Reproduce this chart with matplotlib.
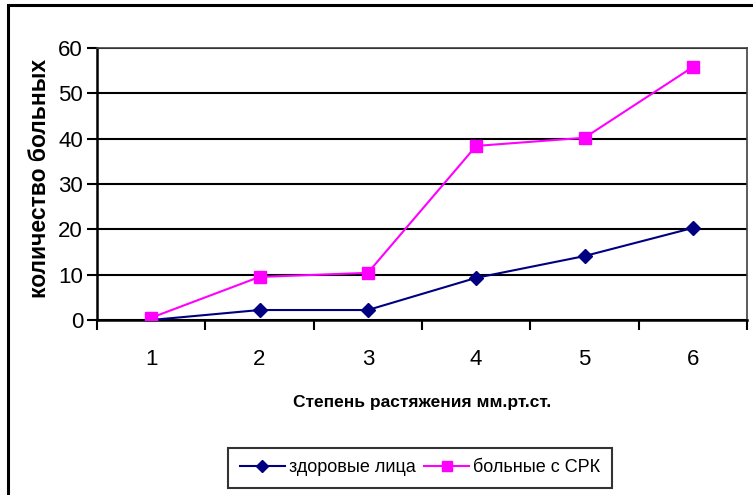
import matplotlib
matplotlib.use("Agg")
import matplotlib.pyplot as plt
from matplotlib.patches import Rectangle
from matplotlib.font_manager import fontManager

names = {f.name for f in fontManager.ttflist}
fam = "Liberation Sans Narrow" if "Liberation Sans Narrow" in names else "Liberation Sans"
plt.rcParams['font.family'] = [fam, 'DejaVu Sans']

categories = [1, 2, 3, 4, 5, 6]
healthy = [0, 2.2, 2.2, 9.3, 14.1, 20.3]
ibs = [0.5, 9.5, 10.4, 38.4, 40.2, 55.8]
yticks = [0, 10, 20, 30, 40, 50, 60]

W, H = 753, 495
fig = plt.figure(figsize=(W/100, H/100), dpi=100)
fig.patches.append(Rectangle((8/W, -0.1), 1.2, (495-5)/H + 0.1, transform=fig.transFigure,
                             fill=False, edgecolor='black', linewidth=2.2))

ax = fig.add_axes([97/W, 1-320/H, (747-97)/W, (320-48)/H])
xs = list(range(len(categories)))
ax.plot(xs, healthy, color='#000080', marker='D', markersize=7, linewidth=1.5,
        label='здоровые лица', zorder=4)
ax.plot(xs, ibs, color='#FF00FF', marker='s', markersize=8, linewidth=1.5,
        label='больные с СРК', zorder=5)
ax.set_xlim(-0.5, len(categories) - 0.5)
ax.set_ylim(0, 60)
ax.set_yticks(yticks)
ax.set_yticklabels([str(v) for v in yticks], fontsize=16)
ax.set_xticks([i - 0.5 for i in range(len(categories) + 1)])
ax.set_xticklabels([])
ax.set_xticks(xs, minor=True)
ax.set_xticklabels([str(c) for c in categories], minor=True, fontsize=16)
ax.tick_params(axis='x', which='major', direction='out', length=7, width=1.5)
ax.tick_params(axis='x', which='minor', length=0, pad=21)
ax.tick_params(axis='y', direction='out', length=7, width=1.5, pad=3)
ax.grid(axis='y', color='black', linewidth=1.5)
ax.set_axisbelow(True)
for s in ['top', 'right']:
    ax.spines[s].set_color('#404040')
    ax.spines[s].set_linewidth(1.2)
for s in ['left', 'bottom']:
    ax.spines[s].set_linewidth(1.8)

fig.text(40/W, 1-178/H, 'количество больных', rotation=90, ha='center', va='center',
         fontsize=16.5, fontweight='bold')
fig.text(422/W, 1-403/H, 'Степень растяжения мм.рт.ст.', ha='center', va='center',
         fontsize=12.5, fontweight='bold')

leg = fig.legend(loc='center', bbox_to_anchor=(420/W, 1-468/H), ncol=2, fontsize=13,
                 frameon=True, fancybox=False, edgecolor='black', handlelength=2.5,
                 columnspacing=0.5, handletextpad=0.2, borderpad=0.65, borderaxespad=0,
                 markerscale=0.85)
leg.get_frame().set_linewidth(1.5)

fig.savefig('out.png', dpi=100)
